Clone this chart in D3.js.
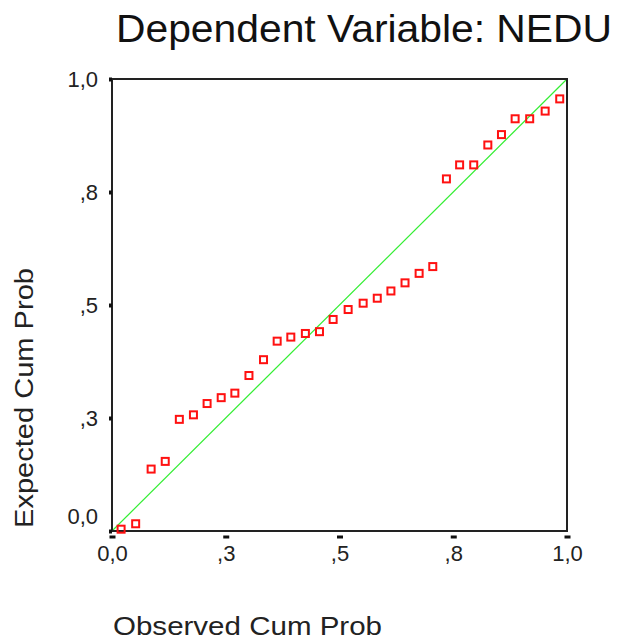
<!DOCTYPE html>
<html>
<head>
<meta charset="utf-8">
<script src="https://cdn.jsdelivr.net/npm/d3@7"></script>
<style>
  body { margin: 0; background: #fff; }
  svg { display: block; font-family: "Liberation Sans", Arial, sans-serif; }
  .axis text { font-size: 22px; fill: #222; }
  .axis .domain { display: none; }
</style>
</head>
<body>
<div id="chart"></div>
<script>
// observed cumulative probability (x) and expected cumulative probability (y)
const observed = [0.020, 0.052, 0.086, 0.117, 0.148, 0.179, 0.209, 0.240,
                  0.270, 0.301, 0.333, 0.363, 0.393, 0.425, 0.456, 0.486,
                  0.519, 0.552, 0.583, 0.613, 0.644, 0.675, 0.705, 0.735,
                  0.764, 0.795, 0.826, 0.856, 0.886, 0.918, 0.952, 0.984];
const expected = [0.004, 0.016, 0.137, 0.154, 0.247, 0.257, 0.282, 0.295,
                  0.305, 0.344, 0.379, 0.420, 0.429, 0.437, 0.441, 0.468,
                  0.490, 0.504, 0.515, 0.531, 0.549, 0.570, 0.585, 0.779,
                  0.810, 0.810, 0.854, 0.877, 0.912, 0.912, 0.929, 0.956];
const tickValues = [0, 0.25, 0.5, 0.75, 1];
const tickLabels = ["0,0", ",3", ",5", ",8", "1,0"];

const W = 620, H = 643;
const M = { top: 79, right: 53, bottom: 112, left: 112 };
const w = W - M.left - M.right;
const h = H - M.top - M.bottom;

const svg = d3.select("#chart").append("svg")
  .attr("width", W).attr("height", H);

const x = d3.scaleLinear().domain([0, 1]).range([M.left, M.left + w]);
const y = d3.scaleLinear().domain([0, 1]).range([M.top + h, M.top]);

// title
svg.append("text")
  .attr("x", 116).attr("y", 42)
  .attr("font-size", 38)
  .attr("textLength", 496)
  .attr("lengthAdjust", "spacingAndGlyphs")
  .attr("fill", "#111")
  .text("Dependent Variable: NEDU");

// reference diagonal
svg.append("line")
  .attr("x1", x(0)).attr("y1", y(0))
  .attr("x2", x(1)).attr("y2", y(1))
  .attr("stroke", "#33ee33")
  .attr("stroke-width", 1.2);

// frame
svg.append("rect")
  .attr("x", x(0)).attr("y", y(1))
  .attr("width", x(1) - x(0)).attr("height", y(0) - y(1))
  .attr("fill", "none")
  .attr("stroke", "#222")
  .attr("stroke-width", 2);

// y axis
const yAxis = svg.append("g")
  .attr("class", "axis")
  .attr("transform", `translate(${x(0)},0)`)
  .call(d3.axisLeft(y).tickValues(tickValues)
    .tickFormat((d, i) => tickLabels[i])
    .tickSize(3).tickPadding(11));
yAxis.selectAll(".tick line").attr("stroke", "#111").attr("stroke-width", 4);
yAxis.selectAll(".tick text").filter(d => d === 0).attr("dy", "-0.32em");

// x axis
const xAxis = svg.append("g")
  .attr("class", "axis")
  .attr("transform", `translate(0,${y(0)})`)
  .call(d3.axisBottom(x).tickValues(tickValues)
    .tickFormat((d, i) => tickLabels[i])
    .tickSize(0).tickPadding(14));
xAxis.selectAll(".tick").append("rect")
  .attr("x", -3).attr("y", 4.5)
  .attr("width", 6).attr("height", 3)
  .attr("fill", "#111");

// axis titles
svg.append("text")
  .attr("x", 113).attr("y", 635)
  .attr("font-size", 26)
  .attr("textLength", 269)
  .attr("lengthAdjust", "spacingAndGlyphs")
  .attr("fill", "#222")
  .text("Observed Cum Prob");

svg.append("text")
  .attr("transform", "rotate(-90)")
  .attr("x", -398).attr("y", 33)
  .attr("text-anchor", "middle")
  .attr("font-size", 26)
  .attr("textLength", 260)
  .attr("lengthAdjust", "spacingAndGlyphs")
  .attr("fill", "#222")
  .text("Expected Cum Prob");

// points
svg.append("g").selectAll("rect")
  .data(observed.map((o, i) => ({ o, e: expected[i] })))
  .join("rect")
  .attr("x", d => x(d.o) - 3.5)
  .attr("y", d => y(d.e) - 3.5)
  .attr("width", 7).attr("height", 7)
  .attr("fill", "none")
  .attr("stroke", "#ff1111")
  .attr("stroke-width", 2);
</script>
</body>
</html>
